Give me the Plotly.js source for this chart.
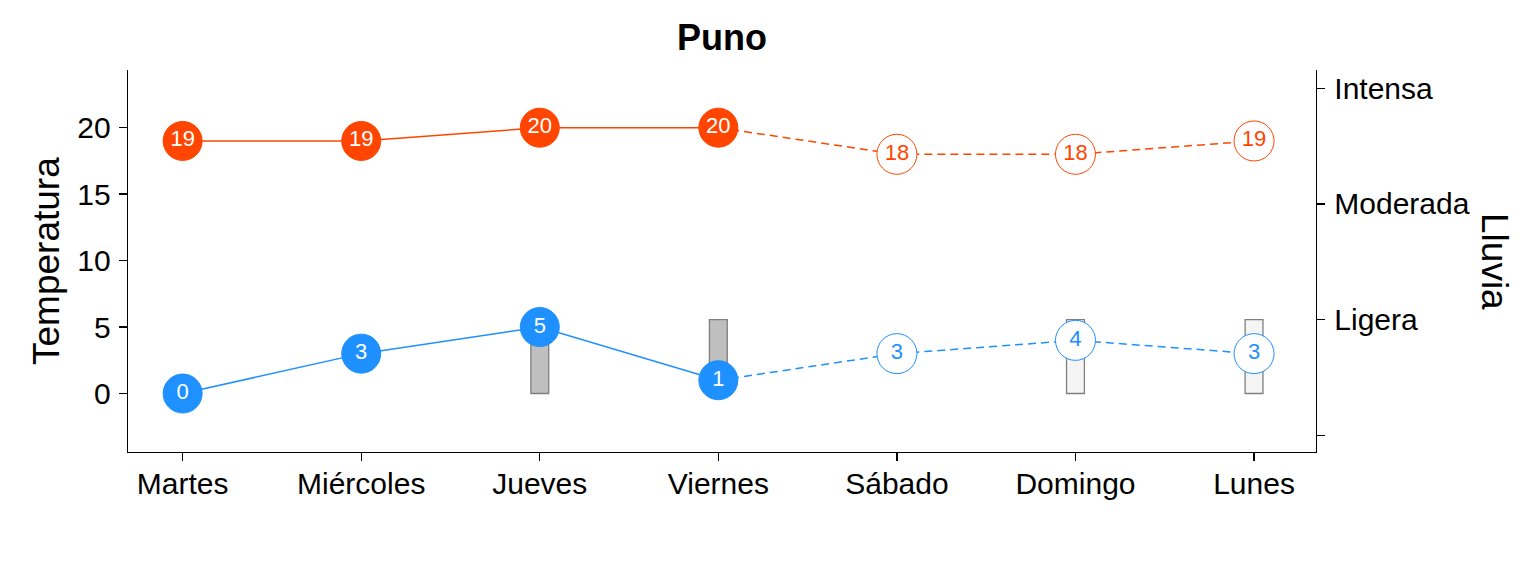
<!DOCTYPE html>
<html>
<head>
<meta charset="utf-8">
<script src="https://cdn.plot.ly/plotly-3.0.1.min.js"></script>
<style>html,body{margin:0;padding:0;background:#fff;}#chart{width:1536px;height:576px;}</style>
</head>
<body>
<div id="chart"></div>
<script>
// ---- data ----
const dias = ["Martes", "Miércoles", "Jueves", "Viernes", "Sábado", "Domingo", "Lunes"];
const tempMax = [19, 19, 20, 20, 18, 18, 19];
const tempMin = [0, 3, 5, 1, 3, 4, 3];
const observado = [true, true, true, true, false, false, false];
const lluvia = ["", "", "Ligera", "Ligera", "", "Ligera", "Ligera"];
const nivelesLluvia = ["", "Ligera", "Moderada", "Intensa"];
const tempTicks = [0, 5, 10, 15, 20];

// secondary axis transform (rain level -> temperature scale)
const LL_OFFSET = -3.14, LL_STEP = 8.7;
const nivelATemp = n => LL_OFFSET + LL_STEP * n;

const FONT = "Liberation Sans, Arial, sans-serif";
const ROJO = "#FF4500", AZUL = "#1E90FF";

const lastObs = observado.lastIndexOf(true);
const obsIdx = dias.map((d, i) => i).filter(i => observado[i]);
const preIdx = dias.map((d, i) => i).filter(i => !observado[i]);
const pick = (arr, idx) => idx.map(i => arr[i]);

const traces = [];

// rain bars
const barIdxObs = obsIdx.filter(i => lluvia[i] !== "");
const barIdxPre = preIdx.filter(i => lluvia[i] !== "");
[[barIdxObs, "#BFBFBF"], [barIdxPre, "#F5F5F5"]].forEach(([idx, fill]) => {
  traces.push({
    type: "bar",
    x: pick(dias, idx),
    y: idx.map(i => nivelATemp(nivelesLluvia.indexOf(lluvia[i]))),
    width: 0.1,
    marker: {color: fill, line: {color: "#7F7F7F", width: 1.3}},
    hoverinfo: "skip", showlegend: false
  });
});

// temperature series
[[tempMax, ROJO], [tempMin, AZUL]].forEach(([vals, col]) => {
  const solidIdx = dias.map((d, i) => i).filter(i => i <= lastObs);
  const dashIdx = dias.map((d, i) => i).filter(i => i >= lastObs);
  traces.push({type: "scatter", mode: "lines", x: pick(dias, solidIdx), y: pick(vals, solidIdx),
    line: {color: col, width: 1.5}, hoverinfo: "skip", showlegend: false});
  traces.push({type: "scatter", mode: "lines", x: pick(dias, dashIdx), y: pick(vals, dashIdx),
    line: {color: col, width: 1.5, dash: "8px,5px"}, hoverinfo: "skip", showlegend: false});
  traces.push({type: "scatter", mode: "markers+text", x: pick(dias, obsIdx), y: pick(vals, obsIdx),
    text: pick(vals, obsIdx).map(String), textposition: "middle center",
    textfont: {family: FONT, size: 22, color: "#FFFFFF"},
    marker: {size: 39, color: col, line: {color: col, width: 1}},
    hoverinfo: "skip", showlegend: false});
  traces.push({type: "scatter", mode: "markers+text", x: pick(dias, preIdx), y: pick(vals, preIdx),
    text: pick(vals, preIdx).map(String), textposition: "middle center",
    textfont: {family: FONT, size: 22, color: col},
    marker: {size: 40, color: "#FFFFFF", line: {color: col, width: 1}},
    hoverinfo: "skip", showlegend: false});
});

// dummy trace to build the secondary axis
traces.push({type: "scatter", mode: "markers", x: [dias[0]], y: [null], yaxis: "y2",
  hoverinfo: "skip", showlegend: false});

const yRange = [-4.40, 24.34];
const axisCommon = {
  showgrid: false, zeroline: false, showline: true, linecolor: "#000", linewidth: 1.3,
  ticks: "outside", ticklen: 8, tickwidth: 1.3, tickcolor: "#000",
  tickfont: {family: FONT, size: 30, color: "#000"}
};

const layout = {
  width: 1536, height: 576,
  paper_bgcolor: "#fff", plot_bgcolor: "#fff",
  margin: {l: 128, r: 220, t: 70, b: 124},
  bargap: 0,
  title: {text: "<b>Puno</b>", font: {family: FONT, size: 36, color: "#000"},
    x: 0.5, xref: "paper", xanchor: "center", y: 1 - 37 / 576, yref: "container", yanchor: "middle"},
  xaxis: Object.assign({}, axisCommon, {type: "category", categoryarray: dias, categoryorder: "array",
    range: [-0.306, 6.347], fixedrange: true, ticklabelstandoff: -3}),
  yaxis: Object.assign({}, axisCommon, {range: yRange, tickvals: tempTicks, ticktext: tempTicks.map(String),
    fixedrange: true, ticklabelstandoff: 2}),
  yaxis2: Object.assign({}, axisCommon, {overlaying: "y", side: "right", range: yRange,
    tickvals: nivelesLluvia.map((n, i) => nivelATemp(i)), ticktext: nivelesLluvia, fixedrange: true,
    ticklabelstandoff: 3}),
  annotations: [
    {text: "Temperatura", xref: "paper", yref: "paper", x: (46 - 128) / 1188, y: 0.5,
      xanchor: "center", yanchor: "middle", textangle: -90, showarrow: false,
      font: {family: FONT, size: 37, color: "#000"}},
    {text: "Lluvia", xref: "paper", yref: "paper", x: (1495 - 128) / 1188, y: 0.5,
      xanchor: "center", yanchor: "middle", textangle: 90, showarrow: false,
      font: {family: FONT, size: 37, color: "#000"}}
  ],
  showlegend: false
};

Plotly.newPlot("chart", traces, layout, {staticPlot: true, displayModeBar: false});
</script>
</body>
</html>
